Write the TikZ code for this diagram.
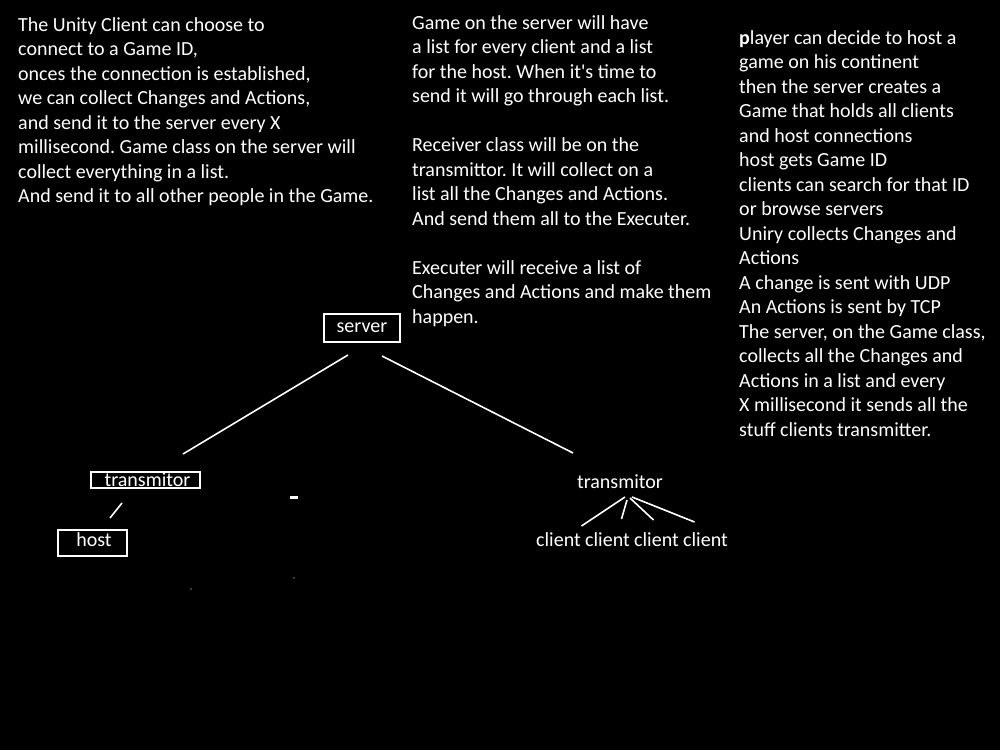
\documentclass[tikz,border=0pt]{standalone}
\usepackage{fontspec}
\setmainfont{Carlito}
\usetikzlibrary{positioning}
\frenchspacing

\begin{document}
\begin{tikzpicture}[x=1pt,y=-1pt]
		\tikzset{link/.style = {draw=white, line width=1.6pt},
			box/.style = {draw=white, line width=1.6pt, text=white, inner sep=0pt, font=\fontsize{20}{24.5}\selectfont},
			label/.style = {text=white, inner sep=0pt, font=\fontsize{20}{24.5}\selectfont},
			notes/.style = {label, align=left, anchor=north west}}
		\fill[black] (0,0) rectangle (1000,750);
		\node[notes] (left) at (18,17) {The Unity Client can choose to\\connect to a Game ID,\\onces the connection is established,\\we can collect Changes and Actions,\\and send it to the server every X\\millisecond. Game class on the server will\\collect everything in a list.\\And send it to all other people in the Game.};
		\node[notes] (middle) at (412,15) {Game on the server will have\\a list for every client and a list\\for the host. When it\textquotesingle s time to\\send it will go through each list.\\[24.5pt]Receiver class will be on the\\transmittor. It will collect on a\\list all the Changes and Actions.\\And send them all to the Executer.\\[24.5pt]Executer will receive a list of\\Changes and Actions and make them\\happen.};
		\node[notes] (right) at (739,30) {\textbf{p}layer can decide to host a\\game on his continent\\then the server creates a\\Game that holds all clients\\and host connections\\host gets Game ID\\clients can search for that ID\\or browse servers\\Uniry collects Changes and\\Actions\\A change is sent with UDP\\An Actions is sent by TCP\\The server, on the Game class,\\collects all the Changes and\\Actions in a list and every\\X millisecond it sends all the\\stuff clients transmitter.};
		\node[box, minimum width=76pt, minimum height=28pt] (server) at (362,328) {\raisebox{-1pt}{server}};
		\node[box, minimum width=109pt, minimum height=16pt] (tleft) at (145.5,480) {\hspace*{4pt}transmitor};
		\node[box, minimum width=69pt, minimum height=26pt, text depth=6pt] (host) at (92.5,543) {\hspace*{3pt}host};
		\node[label] (tright) at (620,482) {transmitor};
		\foreach \i/\x in {1/558.5,2/607.5,3/656.5,4/705.5}
			\node[label] (c\i) at (\x,540) {client};
		\draw[link] ([shift={(-14pt,-27pt)}]server.center) -- ([shift={(37.5pt,26pt)}]tleft.center);
		\draw[link] ([shift={(20pt,-28pt)}]server.center) -- ([shift={(-47pt,29pt)}]tright.center);
		\draw[link] ([shift={(-23.5pt,-23pt)}]tleft.center) -- ([shift={(17.5pt,25pt)}]host.center);
		\foreach \i/\a/\b/\p/\q in {1/5/-15/23/14,2/7/-18/14/21,3/10/-16/-3/20,4/12/-15/-11/18}
			\draw[link] ([shift={(\a pt,\b pt)}]tright.center) -- ([shift={(\p pt,\q pt)}]c\i.center);
		% stray marks
		\draw[white, line width=3pt] (290,497) -- (298,497);
		\fill[white] (191,589) circle (0.6pt) (294,578) circle (0.6pt);
	\end{tikzpicture}
\end{document}
